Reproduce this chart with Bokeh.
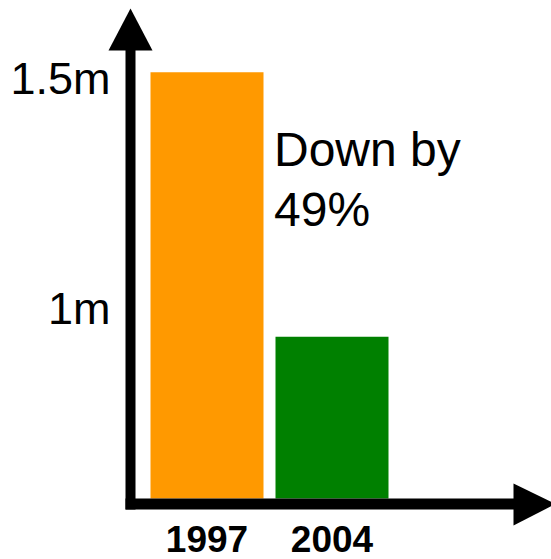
from bokeh.plotting import figure
from bokeh.models import Range1d, ColumnDataSource
from bokeh.core.properties import value
from bokeh.embed import file_html
from bokeh.resources import INLINE

# ---- data ----
years = ["1997", "2004"]
counts = [1.52, 0.944]          # millions (as drawn)
bar_colors = ["#FF9900", "#008000"]
tick_values = [1.5, 1.0]
tick_labels = ["1.5m", "1m"]
note_lines = ["Down by", "49%"]

W, H = 551, 559
PX_PER_X = 125.0      # pixels per category step
PX_PER_Y = 459.0      # pixels per million
xs = 1 - 206.5 / PX_PER_X
xe = xs + W / PX_PER_X
ys = 1.0 - (H - 310.5) / PX_PER_Y
ye = ys + H / PX_PER_Y


def dx(px):
    return xs + px / PX_PER_X


def dy(py):
    return ys + (H - py) / PX_PER_Y


p = figure(width=W, height=H, x_range=Range1d(xs, xe), y_range=Range1d(ys, ye),
           min_border=0, toolbar_location=None, output_backend="svg")
p.axis.visible = False
p.grid.visible = False
p.outline_line_color = None
p.background_fill_color = "white"
p.border_fill_color = "white"

baseline = dy(498)
pos = [i + 1 for i in range(len(years))]
src = ColumnDataSource(dict(x=pos, top=counts, color=bar_colors, year=years))
p.vbar(x="x", top="top", bottom=baseline, width=113 / PX_PER_X, color="color",
       line_color=None, source=src)

# axes with arrows
p.quad(left=[dx(125), dx(125)], right=[dx(135), dx(514)],
       bottom=[dy(509), dy(509)], top=[dy(48), dy(498)],
       color="black", line_color=None)
p.patches(xs=[[dx(108), dx(130), dx(152)], [dx(513), dx(555), dx(513)]],
          ys=[[dy(50), dy(8), dy(50)], [dy(483), dy(503.5), dy(525)]],
          color="black", line_color=None)

# tick labels
p.text(x=[dx(110)] * len(tick_values), y=tick_values, text=tick_labels,
       text_align="right", text_baseline="middle", y_offset=-3,
       text_font=value("Liberation Sans"), text_font_size="45px", text_color="black")

# year labels
p.text(x="x", y=dy(538.5), text="year", source=src, text_align="center",
       text_baseline="middle", text_font=value("Liberation Sans"),
       text_font_style="bold", text_font_size="37px", text_color="black")

# annotation
p.text(x=[pos[1] - 113 / PX_PER_X / 2 - 1.5 / PX_PER_X] * 2, y=[dy(149), dy(209)],
       text=note_lines, text_align="left", text_baseline="middle",
       text_font=value("Liberation Sans"), text_font_size="48px", text_color="black")

open("out.html", "w").write(file_html(p, INLINE))
